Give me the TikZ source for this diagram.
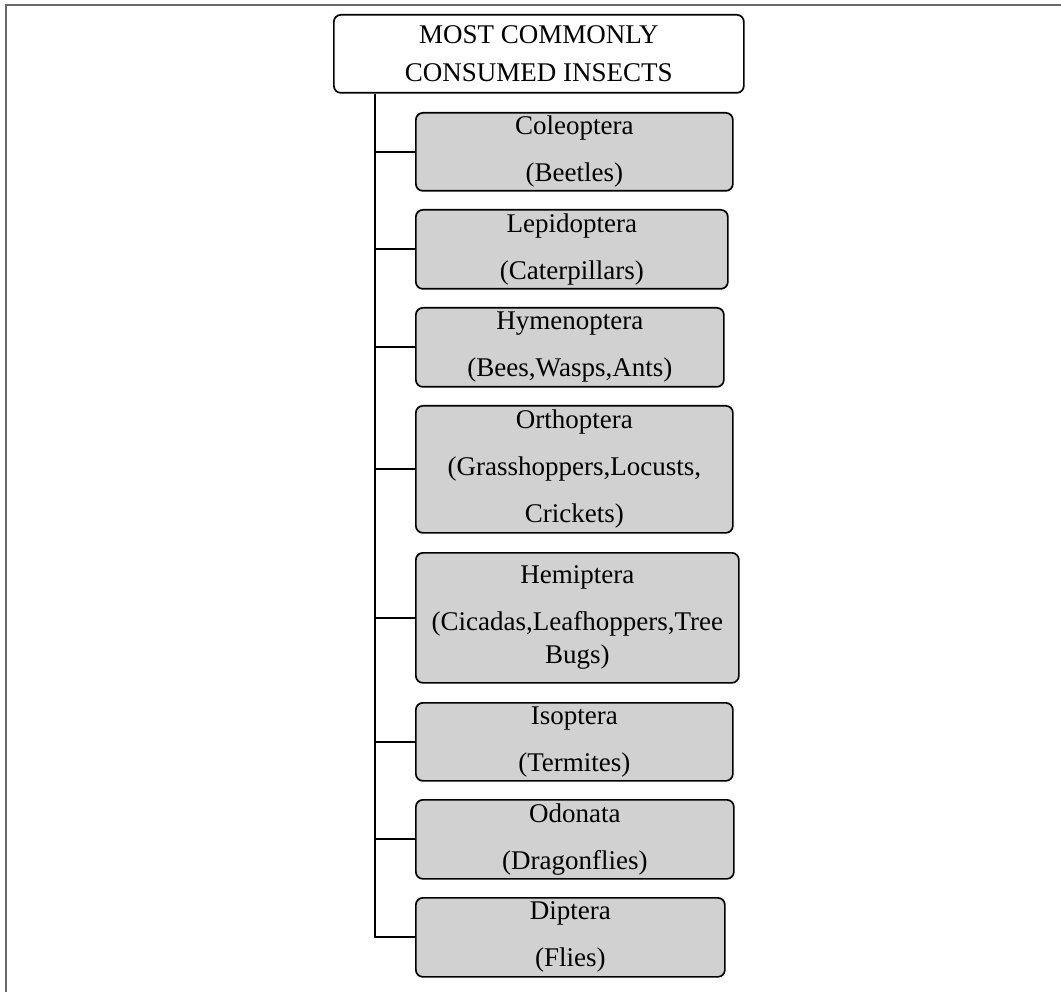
\documentclass[tikz,border=0pt]{standalone}
\usepackage{fontspec}
\setmainfont{Liberation Serif}
\definecolor{ordergray}{RGB}{209,209,209}
\definecolor{framegray}{RGB}{105,105,105}
\tikzset{
  order/.style={draw, rounded corners=7pt, fill=ordergray, line width=1.7pt,
    align=center, inner sep=0pt, anchor=north west,
    font=\fontsize{27}{47}\selectfont},
  link/.style={line width=1.8pt}
}
\begin{document}
\begin{tikzpicture}[x=1pt,y=-1pt]
    \useasboundingbox (0,0) rectangle (1061,992);
    \draw[framegray, line width=2pt] (6,992) -- (6,5) -- (1061,5);
    % title box
    \node[order, fill=white, minimum width=410pt, minimum height=78pt,
      font=\fontsize{27}{38}\selectfont] (title) at (333,14) {MOST COMMONLY\\CONSUMED INSECTS};
    \coordinate (trunk) at ([xshift=42pt]title.south west);
    % insect orders
    \node[order, minimum width=317pt, minimum height=78pt] (coleoptera) at (415,112) {Coleoptera\\(Beetles)};
    \node[order, minimum width=312pt, minimum height=79pt] (lepidoptera) at (415,209) {Lepidoptera\\(Caterpillars)};
    \node[order, minimum width=308pt, minimum height=79pt] (hymenoptera) at (415,307) {Hymenoptera\\(Bees,Wasps,Ants)};
    \node[order, minimum width=317pt, minimum height=127pt] (orthoptera) at (415,405) {Orthoptera\\(Grasshoppers,Locusts,\\Crickets)};
    \node[order, minimum width=323pt, minimum height=130pt] (hemiptera) at (415,552) {Hemiptera\\(Cicadas,Leafhoppers,Tree\\[-14pt]Bugs)};
    \node[order, minimum width=317pt, minimum height=78pt] (isoptera) at (415,702) {Isoptera\\(Termites)};
    \node[order, minimum width=318pt, minimum height=79pt] (odonata) at (415,799) {Odonata\\(Dragonflies)};
    \node[order, minimum width=309pt, minimum height=79pt] (diptera) at (415,897) {Diptera\\(Flies)};
    % connectors
    \draw[link] (trunk) |- (diptera.west);
    \draw[link] (coleoptera.west) -- (coleoptera.west -| trunk);
    \draw[link] (lepidoptera.west) -- (lepidoptera.west -| trunk);
    \draw[link] (hymenoptera.west) -- (hymenoptera.west -| trunk);
    \draw[link] (orthoptera.west) -- (orthoptera.west -| trunk);
    \draw[link] (hemiptera.west) -- (hemiptera.west -| trunk);
    \draw[link] (isoptera.west) -- (isoptera.west -| trunk);
    \draw[link] (odonata.west) -- (odonata.west -| trunk);
\end{tikzpicture}
\end{document}
